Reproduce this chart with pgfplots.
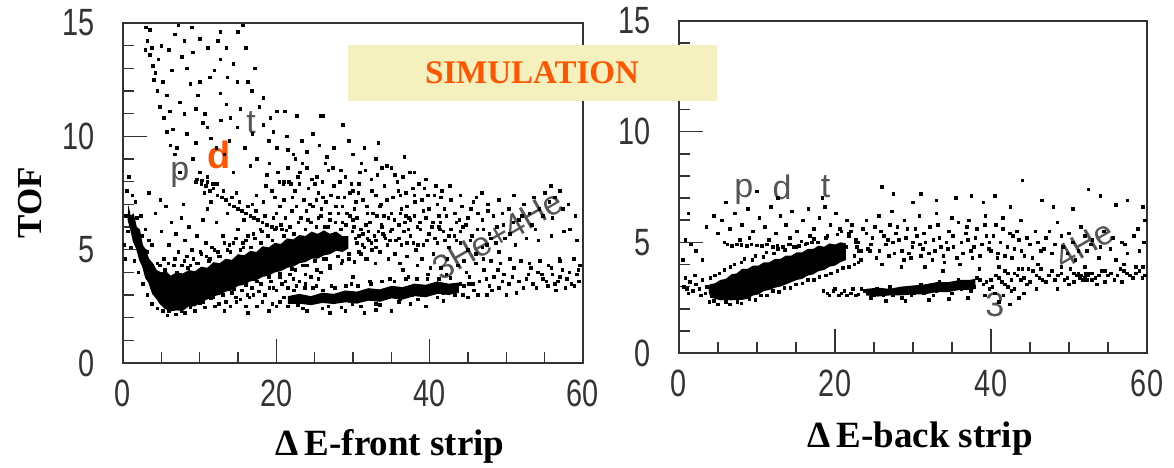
\documentclass[border=0pt]{standalone}
\usepackage{fontspec}
\setmainfont{Liberation Serif}
\newfontfamily\tickfont[FakeStretch=0.76]{Liberation Sans}
\newfontfamily\labfont{Liberation Sans}
\usepackage{pgfplots}
\pgfplotsset{compat=1.18}
\definecolor{simorange}{HTML}{FF5500}
\definecolor{simbox}{HTML}{F5F1BE}
\definecolor{framegray}{HTML}{333333}
\definecolor{handgray}{HTML}{555555}

\pgfplotsset{
  tofaxis/.style={
    scale only axis,
    xmin=0, xmax=60, ymin=0, ymax=15,
    axis line style={framegray, line width=1pt},
    xtick={0,20,40,60},
    minor xtick={5,10,15,25,30,35,45,50,55},
    ytick={0,5,10,15},
    minor ytick={1,2,3,4,6,7,8,9,11,12,13,14},
    tick pos=left, tick align=inside,
    major tick length=12pt, minor tick length=5.5pt,
    major tick style={framegray, line width=0.8pt},
    minor tick style={framegray, line width=0.8pt},
    tick label style={font=\tickfont\fontsize{19}{19}\selectfont, text=black!80, inner sep=0pt},
    /pgf/number format/assume math mode=true,
    xticklabel style={yshift=-8.5pt},
    yticklabel style={xshift=-14pt},
  },
  dots/.style={only marks, mark=square*, mark size=0.65pt, black, forget plot},
  band/.style={fill=black, draw=none, forget plot},
}
\tikzset{hand/.style={text=handgray, font=\labfont\fontsize{17}{17}\selectfont, inner sep=0pt}}

\begin{document}
\begin{tikzpicture}
\useasboundingbox (0,0) rectangle (587pt,233.5pt);

% ---------- front strip ----------
\begin{axis}[tofaxis, at={(61.5pt,52pt)}, anchor=south west, width=230pt, height=170pt]
% dense bands
\addplot[band] coordinates {
(0.7,7.0) (1.0,6.5) (1.4,6.6) (1.8,6.0) (2.2,5.9) (2.6,5.2) (3.0,5.0) (3.4,4.6)
(3.9,4.4) (4.4,4.1) (5.0,4.0) (5.6,4.05) (6.2,3.85) (7.0,4.0) (7.8,3.95) (8.6,4.1)
(9.4,4.05) (10.2,4.25) (11.0,4.2) (11.8,4.45) (12.6,4.4) (13.4,4.6) (14.2,4.55) (15.0,4.8)
(15.8,4.75) (16.6,4.95) (17.4,4.9) (18.2,5.15) (19.0,5.1) (19.8,5.3) (20.6,5.25) (21.4,5.5)
(22.2,5.45) (23.0,5.65) (23.8,5.6) (24.6,5.8) (25.4,5.7) (26.2,5.85) (27.0,5.7) (27.8,5.8)
(28.6,5.6) (29.4,5.6)
(29.4,5.05) (28.6,4.9) (27.8,4.95) (27.0,4.8) (26.2,4.75) (25.4,4.6) (24.6,4.6) (23.8,4.45)
(23.0,4.4) (22.2,4.25) (21.4,4.2) (20.6,4.05) (19.8,4.0) (19.0,3.85) (18.2,3.8) (17.4,3.65)
(16.6,3.6) (15.8,3.45) (15.0,3.4) (14.2,3.2) (13.4,3.15) (12.6,3.0) (11.8,2.95) (11.0,2.8)
(10.2,2.7) (9.4,2.5) (8.6,2.5) (7.8,2.3) (7.0,2.32) (6.2,2.28) (5.4,2.4) (4.8,2.6)
(4.3,2.85) (3.8,3.05) (3.3,3.55) (2.9,3.75) (2.5,4.25) (2.1,4.55) (1.7,5.05) (1.3,5.35)
(0.9,5.95) (0.6,6.3)
} -- cycle;
\addplot[band] coordinates {
(21.5,2.95) (23,3.05) (24.5,2.95) (26,3.1) (27.5,3.05) (29,3.2) (30.5,3.15) (32,3.3)
(33.5,3.25) (35,3.4) (36.5,3.35) (38,3.5) (39.5,3.45) (41,3.6) (42.5,3.5) (43.8,3.55)
(43.8,3.1) (42.5,3.0) (41,3.05) (39.5,2.9) (38,2.95) (36.5,2.8) (35,2.85) (33.5,2.7)
(32,2.75) (30.5,2.62) (29,2.68) (27.5,2.6) (26,2.65) (24.5,2.55) (23,2.62) (21.5,2.6)
} -- cycle;
% scattered events
\addplot[dots] coordinates {
(3.0,14.8) (3.5,14.7) (6.8,14.5) (9.0,14.8) (10.0,14.3) (12.7,14.6) (15.0,14.6) (3.8,13.9)
(7.7,13.5) (9.1,13.7) (11.1,13.9) (12.4,14.2) (13.5,13.9) (12.7,13.4) (14.4,13.2) (17.2,13.0)
(4.2,12.8) (5.2,12.4) (10.0,12.4) (11.3,12.6) (14.9,12.4) (16.3,12.4) (5.7,11.8) (9.8,11.8)
(12.7,11.9) (6.1,11.1) (7.4,11.5) (10.7,11.0) (13.5,11.4) (15.3,11.2) (18.3,11.7) (20.1,11.1)
(21.1,11.1) (22.7,10.9) (26.1,10.9) (6.5,10.3) (8.3,10.1) (11.0,10.4) (14.9,10.4) (18.3,10.5)
(19.6,10.2) (24.8,10.1) (28.7,10.5) (7.0,9.5) (9.1,9.0) (15.9,9.5) (17.5,9.0) (20.1,9.5)
(22.2,9.2) (24.0,9.3) (26.6,9.1) (30.0,9.2) (7.4,8.4) (10.0,8.4) (11.0,8.2) (12.3,7.9)
(14.4,8.4) (16.6,8.7) (18.8,8.3) (20.9,7.9) (23.1,8.4) (25.3,8.2) (27.4,8.6) (30.9,8.4)
(3.2,14.2) (3.5,13.6) (3.9,13.1) (4.0,12.5) (4.5,12.0) (4.8,11.3) (5.3,10.8) (5.7,10.2)
(6.2,9.6) (6.8,9.2) (2.9,13.8) (4.6,13.4) (5.0,14.0) (7.2,14.9) (8.0,14.2) (8.3,13.0)
(8.8,12.3) (9.5,11.2) (10.4,10.6) (11.5,9.9) (12.2,9.5) (13.2,9.2) (8.0,11.0) (9.5,9.7)
(15.6,14.9) (16.0,13.9) (16.8,12.0) (17.8,11.3) (19.2,10.8) (21.4,10.0) (23.3,9.8) (25.6,9.6)
(27.5,9.5) (29.5,9.8) (31.5,9.5) (33.0,9.0) (13.6,12.6) (11.9,12.9) (6.4,12.9) (6.0,13.8)
(14.0,10.8) (16.9,10.1) (19.0,9.8) (21.5,9.4) (12.8,10.7) (13.9,9.8) (25.8,10.9) (33.3,9.7)
(36.7,9.1) (35.0,8.6) (38.0,8.4)
(9.5,8.0) (10.2,7.9) (10.8,7.8) (11.3,7.6) (11.8,7.7) (12.3,7.4) (12.9,7.3) (13.4,7.2)
(13.9,7.0) (14.5,6.9) (15.0,6.8) (15.5,6.7) (16.0,6.6) (16.6,6.5) (17.1,6.4) (17.6,6.3)
(18.2,6.2) (18.8,6.1) (19.4,6.0) (20.0,5.95) (20.7,5.9) (21.3,5.85) (10.6,7.5) (12.0,7.9)
(13.1,7.6) (14.2,7.3) (15.2,7.1) (16.3,6.9) (17.3,6.7) (18.5,6.5) (19.6,6.4) (11.5,7.1)
(13.6,6.6) (15.8,6.3) (17.9,5.9) (14.8,7.5) (16.9,7.0) (20.4,8.0) (21.0,8.0) (21.6,8.0)
(9.6,8.1) (10.3,8.05) (11.0,8.0) (11.7,7.9)
(21.5,8.6) (22.4,7.6) (23.0,7.9) (23.6,7.2) (24.2,7.7) (24.8,6.9) (25.5,7.5) (26.0,8.0)
(26.5,7.1) (27.0,6.6) (27.5,7.8) (28.0,7.3) (28.6,6.9) (29.0,8.2) (29.6,7.5) (30.2,6.8)
(30.8,7.9) (31.3,7.2) (31.9,6.6) (32.4,8.1) (33.0,7.4) (33.5,6.9) (34.1,7.8) (34.6,6.4)
(35.2,7.3) (35.8,8.0) (36.3,6.8) (36.9,7.5) (37.5,6.3) (38.1,7.1) (38.6,7.9) (39.2,6.7)
(39.8,7.4) (40.4,6.2) (41.0,7.0) (41.6,7.6) (42.2,6.5) (42.8,7.2) (22.0,6.7) (23.2,6.4)
(24.5,6.2) (25.8,6.5) (26.3,6.0) (27.7,6.2) (29.1,6.1) (30.5,6.4) (31.0,5.9) (32.2,6.2)
(33.8,6.0) (34.9,5.8) (36.0,6.1) (37.2,5.9) (21.0,7.2) (22.8,8.2) (24.0,8.6) (25.0,7.9)
(26.8,8.5) (28.3,8.0) (30.0,7.6) (31.6,8.5) (33.2,8.3) (34.4,8.7) (36.5,8.2) (37.8,7.7)
(39.5,8.1) (40.8,7.8) (20.5,6.9) (19.8,7.3) (18.6,7.8) (17.4,7.4) (19.1,8.8) (22.5,9.0)
(43.5,6.2) (44.2,6.9) (45.0,6.4) (45.7,7.1) (46.3,6.6) (47.0,5.9) (47.6,7.0) (48.3,6.5)
(49.0,7.2) (49.6,6.1) (50.3,6.8) (51.0,7.4) (51.6,6.3) (52.3,7.0) (53.0,6.6) (53.6,7.3)
(54.3,6.8) (55.0,7.5) (55.6,7.1) (56.3,7.3) (45.5,5.6) (48.0,5.5) (44.0,5.8) (42.5,5.6)
(41.3,5.9) (59.0,6.5) (59.2,5.4) (58.3,5.9) (50.5,5.7) (46.8,7.5) (53.8,5.9)
(0.5,7.6) (0.8,8.2) (1.2,7.4) (3.4,7.5) (4.9,7.2) (4.2,6.6) (5.6,6.9) (6.3,6.2)
(6.9,5.7) (7.6,6.4) (8.1,5.4) (8.6,6.0) (9.0,5.0) (9.6,5.6) (10.2,4.8) (10.8,5.3)
(11.3,4.6) (7.2,4.9) (8.0,4.5) (6.0,5.2) (5.3,4.6) (6.6,4.3) (8.8,4.3) (9.6,4.4)
(11.9,5.0) (12.5,4.7) (10.4,6.3) (7.9,7.0) (5.0,5.8) (3.8,5.2) (4.5,4.4) (11.0,6.8)
(12.2,6.2) (13.0,5.6) (13.6,5.0) (14.4,5.3) (15.0,5.9) (16.0,5.4) (17.0,5.7) (15.7,5.1)
(1.6,7.1) (2.3,6.5) (2.9,5.9) (3.4,5.4)
(9.0,2.6) (10.5,2.7) (11.8,2.9) (13.0,3.0) (14.2,3.1) (15.5,3.2) (16.8,3.3) (18.0,3.5)
(19.3,3.6) (20.5,3.8) (21.8,3.9) (12.5,2.6) (14.8,2.7) (16.5,2.9) (18.5,3.0) (20.0,3.2)
(21.5,3.3) (23.0,3.6) (24.5,3.8) (25.8,4.0) (27.0,4.2) (28.5,4.4) (17.5,2.5) (19.5,2.6)
(15.8,3.6) (17.2,3.7) (13.6,3.4) (22.5,4.1) (24.0,4.3) (26.2,4.6) (29.5,4.6) (31.0,4.8)
(32.5,5.0) (10.0,3.0) (11.0,3.3)
(5.5,4.1) (7.0,4.0) (8.5,4.2) (9.8,4.4) (11.2,4.5) (12.6,4.7) (14.0,4.9) (15.3,5.0)
(16.7,5.1) (18.0,5.3) (19.5,5.4) (21.0,5.6) (22.3,5.7) (23.8,5.9) (25.2,6.0) (26.8,6.0)
(28.4,5.9) (29.9,5.8) (31.3,5.7) (32.8,5.6) (34.2,5.5) (35.6,5.4) (37.0,5.3) (38.5,5.2)
(6.0,2.3) (7.6,2.3) (8.8,2.45) (10.0,2.65) (11.5,2.85) (13.0,3.0) (14.5,3.25) (16.0,3.45)
(17.5,3.6) (19.0,3.8) (20.5,3.95) (22.0,4.15) (23.5,4.3) (25.0,4.5) (26.5,4.6) (28.0,4.7)
(29.5,4.8) (30.8,4.9)
(0.4,6.5) (0.6,5.8) (1.0,5.1) (1.5,4.5) (2.0,4.0) (2.6,3.5) (3.2,3.0) (3.8,2.6)
(4.5,2.4) (5.2,2.3) (1.8,6.4) (2.5,5.6) (3.1,4.9) (3.8,4.3) (0.3,4.6) (0.2,5.2)
(30.5,5.3) (31.5,5.1) (32.0,5.8) (33.0,5.4) (33.7,6.1) (34.5,5.2) (35.1,5.9) (36.0,5.5)
(36.8,6.2) (37.5,5.6) (38.2,5.0) (38.8,5.9) (39.6,5.4) (40.3,6.0) (41.0,5.3) (41.8,5.8)
(42.5,5.1) (43.2,5.6) (44.0,5.3) (45.0,5.0) (35.5,4.8) (37.0,4.7) (39.0,4.6) (40.5,4.8)
(33.5,4.9) (31.8,4.6) (34.0,6.5) (36.2,6.6) (38.0,6.5) (39.5,6.4) (41.2,6.5) (30.0,6.3)
(32.6,6.6) (44.5,4.5) (46.0,4.8) (47.5,5.2) (49.0,4.9)
(44.5,3.4) (45.2,3.8) (45.8,3.2) (46.5,3.6) (47.1,4.1) (47.8,3.4) (48.4,3.8) (49.0,3.3)
(49.7,3.9) (50.3,3.5) (51.0,4.2) (51.6,3.6) (52.2,3.3) (52.9,3.9) (53.5,3.5) (54.1,4.0)
(54.8,3.7) (55.4,3.4) (56.0,3.9) (56.7,3.6) (57.3,4.1) (57.9,3.7) (58.5,3.5) (59.2,3.9)
(59.6,4.3) (59.5,3.6) (46.0,4.4) (48.0,4.5) (50.5,4.6) (53.0,4.4) (55.5,4.3) (57.0,4.5)
(56.5,3.2) (58.8,4.6) (45.0,2.9) (47.5,3.0) (50.0,3.0)
(20.5,2.7) (21.5,2.5) (22.3,3.2) (23.5,2.4) (24.8,3.3) (26.0,2.4) (27.2,3.4) (28.5,2.45)
(29.8,3.5) (31.0,2.5) (32.2,3.6) (33.5,2.55) (34.8,3.7) (36.0,2.7) (37.2,3.8) (38.5,2.8)
(39.8,3.9) (41.0,2.9) (42.2,3.9) (43.3,3.0) (44.0,3.5) (27.0,2.2) (31.5,2.2) (35.0,2.3)
(39.5,2.5) (30.0,3.8) (36.5,4.1) (41.5,4.2) (25.5,3.7)
(4.8,4.3) (5.9,4.4) (6.8,4.6) (7.7,4.3) (8.3,4.7) (9.2,4.6) (10.1,4.9) (10.9,4.7)
(11.6,5.1) (12.4,4.9) (13.2,5.3) (13.9,5.2) (14.7,5.5) (15.6,5.3) (16.3,5.6) (17.2,5.5)
(18.1,5.8) (18.9,5.6) (19.8,5.9) (20.6,6.1) (21.8,6.0) (22.9,6.2) (24.1,6.3) (25.5,6.4)
(27.0,6.3) (28.6,6.2) (30.1,6.0)
(5.8,2.1) (6.9,2.15) (8.1,2.2) (9.4,2.3) (10.7,2.45) (12.0,2.5) (13.4,2.7) (14.7,2.9)
(16.2,3.0) (17.7,3.15) (19.1,3.3) (20.7,3.5) (22.2,3.7) (23.8,3.9) (25.3,4.1) (27.0,4.3)
(28.6,4.5) (30.2,4.45) (31.6,4.6)
(29.0,5.3) (30.3,5.5) (31.2,5.2) (32.1,5.4) (33.0,5.1) (33.9,5.7) (31.7,6.1) (29.6,6.5) (28.1,6.6)
(18.3,7.1) (19.4,7.6) (20.2,8.4) (21.2,6.4) (21.9,7.9) (22.6,6.9) (23.4,8.8) (23.9,6.7)
(24.6,8.1) (25.2,7.2) (25.9,6.8) (26.4,8.8) (27.1,7.4) (27.8,6.9) (28.4,8.5) (29.2,6.6)
(29.8,7.9) (30.4,7.1) (31.1,8.8) (31.8,6.9) (32.5,7.6) (33.1,6.5) (33.8,8.6) (34.4,7.2)
(35.0,6.6) (35.5,8.3) (36.2,7.4) (36.9,6.5) (37.4,8.4) (38.0,7.4) (38.7,6.2) (39.3,7.7)
(39.9,6.8) (40.6,7.4) (41.2,6.0) (41.9,6.8) (42.6,7.8) (43.3,6.6) (44.0,7.4) (44.7,6.1)
(45.4,6.8) (46.1,7.3) (46.9,6.3) (47.6,6.7) (48.8,6.0) (49.5,6.6) (50.9,6.2) (52.0,6.5)
(53.3,6.1) (54.8,6.5) (56.0,6.4) (57.4,6.8) (57.0,7.6) (58.1,7.0) (55.8,7.8)
(33.6,7.0) (35.9,7.6) (37.0,6.9) (30.7,7.5) (28.9,7.3) (26.1,7.3) (24.4,7.0) (22.1,7.3)
(20.0,6.6) (39.0,7.2) (41.5,7.3) (43.9,6.3)
(30.8,5.6) (31.9,5.5) (32.4,5.3) (33.3,5.8) (34.1,5.6) (34.8,5.4) (35.4,6.3) (36.3,5.2)
(36.6,5.8) (37.3,6.4) (37.9,5.3) (38.4,6.0) (39.2,5.2) (39.9,5.7) (40.7,5.5) (41.4,6.2)
(42.0,5.4) (42.8,5.9) (43.5,5.4) (44.3,6.0) (45.3,5.4) (46.2,5.9) (46.9,5.1) (47.8,5.7)
(48.6,5.3) (49.8,5.5) (51.2,5.2) (52.6,5.5) (54.2,5.4) (55.9,5.6) (57.5,5.8) (34.6,4.6)
(36.1,4.4) (38.4,4.3) (40.1,4.2) (42.3,4.6) (43.7,4.3) (32.9,4.4)
(21.0,2.9) (21.9,2.8) (22.8,2.55) (23.7,3.3) (24.3,2.8) (25.2,3.4) (26.1,3.2) (26.8,2.5)
(27.6,3.3) (28.3,2.9) (29.1,3.4) (29.9,2.6) (30.6,3.4) (31.4,3.0) (32.3,3.5) (33.0,2.6)
(33.8,3.6) (34.4,3.0) (35.4,3.6) (36.1,2.8) (36.9,3.7) (37.7,3.0) (38.3,3.7) (39.0,3.0)
(39.7,3.7) (40.3,3.1) (41.2,3.7) (41.8,3.1) (42.7,3.75) (43.5,3.3) (44.3,3.0) (45.1,3.5)
(24.0,2.3) (29.0,2.3) (33.0,2.35) (37.5,2.6) (41.8,2.75)
(14.0,2.5) (15.3,2.8) (16.0,2.5) (17.0,3.0) (18.2,2.7) (19.0,2.3) (20.0,2.5) (21.2,3.6)
(22.6,3.4) (23.8,3.5) (19.6,3.3) (18.8,3.9) (16.3,2.2) (13.2,2.3)
(44.8,4.0) (45.6,3.5) (46.3,3.0) (47.4,3.7) (48.1,3.2) (48.9,4.1) (49.5,3.6) (50.8,3.8)
(51.3,3.1) (52.6,3.7) (53.2,4.2) (53.9,3.3) (54.6,3.9) (55.2,3.6) (55.9,4.2) (56.3,3.5)
(57.0,3.8) (57.7,3.3) (58.2,4.0) (58.9,3.4) (59.4,4.1) (56.9,4.6) (54.4,4.5) (51.9,4.5)
(49.2,4.4) (47.0,4.6)
};
\node[hand] at (axis cs:7.4,8.3) {p};
\node[hand] at (axis cs:16.7,10.6) {t};
\node[hand, rotate=30] at (axis cs:48.9,5.65) {3He+4He};
\node[text=simorange, font=\labfont\bfseries\fontsize{19}{19}\selectfont, inner sep=0pt] at (axis cs:12.5,9.2) {d};
\end{axis}

% ---------- back strip ----------
\begin{axis}[tofaxis, at={(339.5pt,57pt)}, anchor=south west, width=234pt, height=166pt]
\addplot[band] coordinates {
(3.9,3.1) (4.6,3.15) (5.3,3.3) (6.0,3.35) (6.7,3.55) (7.4,3.6) (8.1,3.8) (8.8,3.8)
(9.5,3.95) (10.2,3.95) (10.9,4.1) (11.6,4.1) (12.3,4.25) (13.0,4.25) (13.7,4.4) (14.4,4.4)
(15.1,4.55) (15.8,4.55) (16.5,4.7) (17.2,4.7) (17.9,4.85) (18.6,4.8) (19.3,4.95) (20.0,4.9)
(20.7,5.0) (21.4,4.95)
(21.4,4.2) (20.7,4.1) (20.0,3.95) (19.3,3.9) (18.6,3.75) (17.9,3.7) (17.2,3.55) (16.5,3.5)
(15.8,3.35) (15.1,3.3) (14.4,3.2) (13.7,3.1) (13.0,3.0) (12.3,2.95) (11.6,2.85) (10.9,2.8)
(10.2,2.65) (9.5,2.6) (8.8,2.45) (8.1,2.4) (7.4,2.4) (6.7,2.38) (6.0,2.4) (5.3,2.38)
(4.6,2.45) (4.0,2.5) (3.8,2.8)
} -- cycle;
\addplot[band] coordinates {
(24,2.9) (25.5,2.95) (27,2.9) (28.5,3.0) (30,3.05) (31.5,3.1) (33,3.2) (34.5,3.2)
(36,3.3) (37.2,3.3) (38,3.35)
(38,2.9) (37.2,2.85) (36,2.85) (34.5,2.75) (33,2.75) (31.5,2.65) (30,2.65) (28.5,2.6)
(27,2.6) (25.5,2.55) (24,2.6)
} -- cycle;
\addplot[dots] coordinates {
(0.6,3.0) (1.0,2.9) (1.4,3.2) (1.8,2.8) (2.2,3.1) (2.6,2.9) (3.0,3.3) (3.4,2.7)
(0.8,3.4) (2.0,3.5) (3.6,3.0) (1.2,2.7) (2.8,2.6)
(0.8,5.1) (1.5,4.9) (0.5,4.2) (1.2,6.3) (2.2,4.6) (3.0,4.2) (3.5,5.7) (4.5,6.2) (5.0,5.4)
(6.2,4.9) (6.8,4.85) (7.4,4.9) (8.0,4.88) (8.7,4.85) (9.3,4.9) (10.0,4.87) (10.6,4.85)
(11.3,4.9) (12.0,4.8) (12.6,4.85) (13.3,4.8) (14.0,4.9) (14.7,4.8) (15.4,4.85) (16.2,4.9)
(17.0,5.0) (17.8,5.0)
(5.5,6.0) (6.5,5.6) (7.2,6.3) (8.1,5.8) (8.8,6.5) (9.5,5.5) (10.3,6.1) (11.0,5.7)
(11.8,6.6) (12.4,5.4) (13.0,6.2) (13.7,5.8) (14.5,6.4) (15.1,5.5) (15.9,6.0) (16.6,6.5)
(17.3,5.6) (18.0,6.1) (18.7,6.6) (19.4,5.8) (20.1,6.3) (20.8,5.5) (21.5,6.0) (9.0,5.2)
(11.5,5.1) (14.2,5.2) (16.8,5.3) (19.0,5.3) (7.8,5.1) (5.8,5.0) (10.0,7.3) (12.7,7.0)
(18.4,7.0) (6.0,6.8)
(21.0,4.6) (21.8,5.3) (22.5,4.4) (23.0,5.0) (23.6,5.6) (24.2,4.7) (24.8,5.2) (25.3,4.3)
(25.9,5.5) (26.5,4.9) (27.0,5.8) (27.6,4.5) (28.2,5.1) (28.8,4.2) (29.3,5.6) (29.9,4.8)
(30.5,5.3) (31.0,4.4) (31.6,5.0) (32.2,5.7) (32.8,4.6) (33.4,5.2) (34.0,4.1) (34.6,5.5)
(35.2,4.8) (35.8,5.9) (36.4,4.5) (37.0,5.1) (37.6,4.3) (38.2,5.6) (38.8,4.9) (39.4,5.3)
(40.0,4.6) (40.6,5.8) (41.2,5.0) (41.8,4.4) (42.4,5.4) (43.0,4.7) (43.6,5.1) (44.3,4.4)
(45.0,4.9) (45.7,5.5) (46.4,4.6) (22.2,5.8) (24.0,6.0) (25.6,6.2) (27.3,6.4) (28.9,6.0)
(30.8,6.2) (33.0,6.3) (35.0,6.1) (37.2,6.0) (39.3,6.2) (41.5,6.1) (43.8,6.0) (23.3,4.2)
(26.0,4.0) (28.5,3.9) (31.5,3.9) (33.8,3.7) (36.0,4.0) (38.5,3.8) (41.0,3.9) (43.5,3.8)
(46.0,4.0) (22.8,4.8) (26.8,5.1) (30.0,5.0) (33.6,4.8) (36.8,5.4) (39.8,5.0) (42.8,5.3)
(24.5,4.6) (27.8,5.4) (31.3,4.7) (34.3,5.0) (37.8,4.8) (40.8,4.3) (29.5,4.5) (32.5,4.2)
(47.0,5.2) (47.8,4.5) (48.5,5.9) (49.2,4.8) (50.0,5.4) (50.8,4.2) (51.5,5.7) (52.3,4.6)
(53.0,5.1) (53.8,4.3) (54.5,5.5) (55.3,4.7) (56.0,4.2) (56.8,5.0) (57.5,4.5) (58.3,5.3)
(59.0,4.6) (59.6,5.0) (59.7,6.0)
(26.0,7.5) (27.5,7.2) (31.0,7.2) (33.0,6.9) (35.5,7.0) (37.5,7.1) (39.0,6.8) (40.5,7.1)
(44.0,7.8) (46.5,6.9) (48.0,6.6) (50.5,6.5) (52.5,7.4) (54.0,7.1) (56.0,6.7) (57.5,6.9)
(59.5,6.6) (30.0,6.8) (42.5,6.6)
(18.5,2.8) (19.3,2.6) (20.0,2.9) (20.8,2.7) (21.5,2.6) (22.3,2.9) (23.0,2.65) (23.8,2.8)
(24.6,2.5) (25.4,2.9) (26.2,2.6) (27.0,3.0) (27.8,2.7) (28.6,2.5) (29.4,2.9) (30.2,2.7)
(31.0,3.1) (31.8,2.8) (32.6,2.6) (33.4,3.2) (34.2,2.9) (35.0,2.7) (35.8,3.3) (36.6,3.0)
(37.4,2.8) (38.2,3.4) (39.0,3.1) (39.8,2.9) (40.6,3.5) (41.4,3.2) (42.2,3.0) (43.0,3.6)
(43.8,3.3) (44.6,3.1) (45.4,3.7) (46.2,3.4) (47.0,3.2) (47.8,3.7) (48.6,3.5) (49.4,3.3)
(50.2,3.8) (51.0,3.5) (51.8,3.3) (52.6,3.6) (53.4,3.4) (54.2,3.7) (55.0,3.5) (55.8,3.3)
(56.6,3.8) (57.4,3.6) (58.2,3.4) (59.0,3.7) (59.7,3.5) (59.5,3.9) (57.0,4.0) (54.6,3.2)
(52.0,3.9) (50.6,3.2) (49.0,3.9) (44.0,3.8) (41.8,3.7) (40.0,3.3) (42.6,2.8) (44.2,2.7)
(45.8,2.9) (39.2,2.6) (37.0,2.5) (34.6,2.45) (32.0,2.4) (29.0,2.35) (26.5,2.35)
(51.5,3.5) (52.0,3.4) (52.5,3.5) (52.2,3.6) (51.8,3.3)
(4.0,3.4) (5.2,3.6) (6.6,3.9) (8.0,4.1) (9.4,4.2) (10.8,4.35) (12.2,4.5) (13.6,4.65)
(15.0,4.8) (16.4,4.95) (4.5,2.35) (6.0,2.3) (7.5,2.3) (9.0,2.45) (10.5,2.6) (12.0,2.8)
(13.5,2.95) (15.0,3.1) (16.5,3.3) (18.0,3.45) (19.5,3.6) (21.0,3.85) (22.5,4.0)
(4.6,3.5) (5.8,3.75) (7.1,4.0) (8.4,4.25) (9.8,4.4) (11.2,4.55) (12.7,4.7) (14.2,4.9)
(15.7,5.05) (17.3,5.15) (18.8,5.2) (20.3,5.35) (21.8,5.4) (22.6,5.0) (23.0,4.6)
(3.9,2.3) (5.0,2.2) (6.5,2.2) (8.0,2.25) (9.8,2.4) (11.3,2.6) (12.8,2.75) (14.3,2.95)
(15.8,3.15) (17.3,3.3) (18.8,3.5) (20.3,3.7) (21.8,3.9) (23.0,4.1)
(20.6,5.6) (21.4,4.8) (22.0,5.5) (22.7,5.1) (23.4,4.6) (24.0,5.4) (24.6,4.9) (25.1,5.7)
(25.7,4.6) (26.3,5.3) (26.9,4.4) (27.4,5.0) (28.0,5.7) (28.6,4.6) (29.1,5.2) (29.7,4.3)
(30.3,5.6) (30.9,4.9) (31.4,5.4) (32.0,4.5) (32.6,5.1) (33.2,5.8) (33.9,4.4) (34.5,4.7)
(35.1,5.3) (35.6,4.3) (36.2,5.0) (36.9,5.7) (37.4,4.6) (38.0,5.2) (38.6,4.4) (39.2,5.8)
(39.7,4.7) (40.3,5.3) (40.9,4.5) (41.5,5.6) (42.1,4.8) (42.7,4.3) (43.3,5.5) (43.9,4.6)
(44.6,5.2) (45.3,4.3) (46.0,5.0) (46.8,4.7) (47.5,5.5) (48.2,4.9) (49.0,5.3) (49.8,4.5)
(50.5,5.0) (51.2,4.6) (52.0,5.3) (52.8,4.9) (54.0,4.8) (55.6,5.2) (57.2,4.9) (58.8,5.6)
(19.0,2.7) (19.8,2.8) (20.5,2.6) (21.2,2.8) (22.0,2.7) (22.7,2.6) (23.4,2.9) (24.2,2.7)
(25.0,2.6) (25.8,2.8) (26.6,2.7) (27.4,2.6) (28.2,2.8) (29.0,2.7) (29.8,2.6) (30.6,2.9)
(31.4,2.7) (32.2,3.0) (33.0,2.8) (33.8,3.1) (34.6,2.9) (35.4,3.1) (36.2,2.9) (37.0,3.2)
(37.8,3.0) (38.6,3.3) (39.4,3.2) (40.2,3.0) (41.0,3.4) (41.8,3.1) (42.6,3.3) (43.4,3.5)
(44.2,3.4) (45.0,3.2) (45.8,3.5) (46.6,3.3) (47.4,3.5) (48.2,3.3) (49.0,3.6) (49.8,3.4)
(50.6,3.6) (51.4,3.4) (52.2,3.5) (53.0,3.6) (53.8,3.5) (54.6,3.7) (55.4,3.6) (56.2,3.5)
(57.0,3.7) (57.8,3.5) (58.6,3.6) (59.4,3.4) (40.5,2.7) (41.6,2.6) (42.2,3.6) (43.0,2.9)
(44.8,3.8) (46.4,3.8) (48.5,2.9) (50.0,3.1) (53.6,3.1) (56.8,3.2) (58.6,3.9) (52.9,3.3)
(52.3,3.3) (51.2,3.6) (41.0,2.3) (42.4,2.2) (43.6,2.5)
};
\node[hand] at (axis cs:8.3,7.3) {p};
\node[hand] at (axis cs:13.2,7.5) {d};
\node[hand] at (axis cs:18.8,7.5) {t};
\node[hand, rotate=30] at (axis cs:52,4.9) {4He};
\node[hand] at (axis cs:40.5,2.2) {3};
\end{axis}

% ---------- titles and banner ----------
\node[font=\bfseries\fontsize{17.5}{17.5}\selectfont, rotate=90] at (15pt,132pt) {TOF};
\node[font=\bfseries\fontsize{18.5}{18.5}\selectfont, anchor=base] at (195pt,6pt) {Δ\,E-front strip};
\node[font=\bfseries\fontsize{18.5}{18.5}\selectfont, anchor=base] at (460pt,10pt) {Δ\,E-back strip};
\fill[simbox] (174pt,183pt) rectangle (358.5pt,211pt);
\node[text=simorange, font=\bfseries\fontsize{16.5}{16.5}\selectfont] at (266pt,197pt) {SIMULATION};
\end{tikzpicture}
\end{document}
